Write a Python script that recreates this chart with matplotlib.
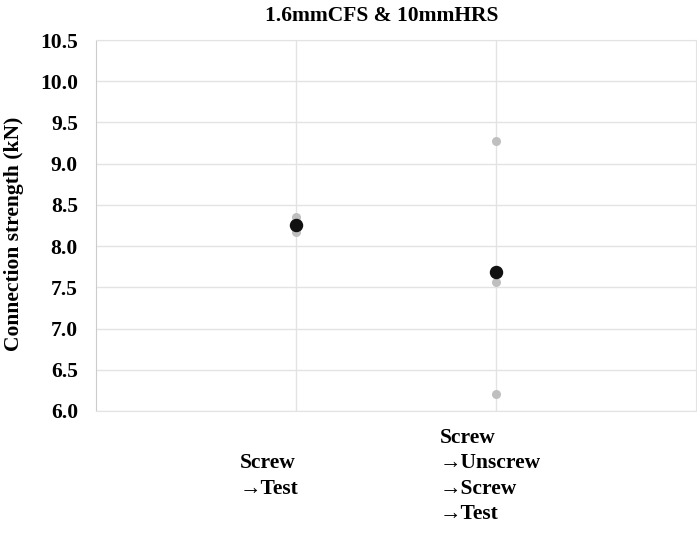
import matplotlib
matplotlib.use("Agg")
import matplotlib.pyplot as plt

# data
categories = ["Screw\n\u2192Test", "Screw\n\u2192Unscrew\n\u2192Screw\n\u2192Test"]
x_pos = [1, 2]
trials_1 = [8.35, 8.26, 8.17]
trials_2 = [9.27, 7.57, 6.21]
means = [8.26, 7.68]
y_ticks = [6.0, 6.5, 7.0, 7.5, 8.0, 8.5, 9.0, 9.5, 10.0, 10.5]

plt.rcParams["font.family"] = ["Liberation Serif", "DejaVu Serif"]
plt.rcParams["font.weight"] = "bold"
FS = 15.5

fig = plt.figure(figsize=(6.97, 5.33), dpi=100)
ax = fig.add_axes([96 / 697, 1 - 411 / 533, 600 / 697, 371 / 533])

ax.scatter([x_pos[0]] * len(trials_1), trials_1, s=30, color="#bfbfbf", zorder=3)
ax.scatter([x_pos[1]] * len(trials_2), trials_2, s=30, color="#bfbfbf", zorder=3)
ax.scatter(x_pos, means, s=75, color="#111111", zorder=4)

ax.set_xlim(0, 3)
ax.set_ylim(6.0, 10.5)
ax.set_yticks(y_ticks)
ax.set_yticklabels([f"{v:.1f}" for v in y_ticks], fontsize=FS, fontweight="bold")
ax.set_xticks(x_pos)
ax.set_xticklabels([])
ax.tick_params(length=0, pad=13)
ax.grid(True, color="#e3e3e3", linewidth=1)
ax.set_axisbelow(True)
for s in ["top", "right", "bottom"]:
    ax.spines[s].set_color("#e3e3e3")
ax.spines["left"].set_color("#cccccc")

# category labels, left aligned blocks
label_x = [240 / 697, 440 / 697]
for lx, lab in zip(label_x, categories):
    fig.text(lx, 1 - 476 / 533, lab, ha="left", va="center", multialignment="left",
             fontsize=FS, fontweight="bold", linespacing=1.36)

ax.set_ylabel("Connection strength (kN)", fontsize=FS, fontweight="bold")
ax.yaxis.set_label_coords(-0.12, 0.477)
fig.text(382 / 697, 1 - 16 / 533, "1.6mmCFS & 10mmHRS", ha="center", va="center",
         fontsize=FS, fontweight="bold")

fig.savefig("out.png", dpi=100)
